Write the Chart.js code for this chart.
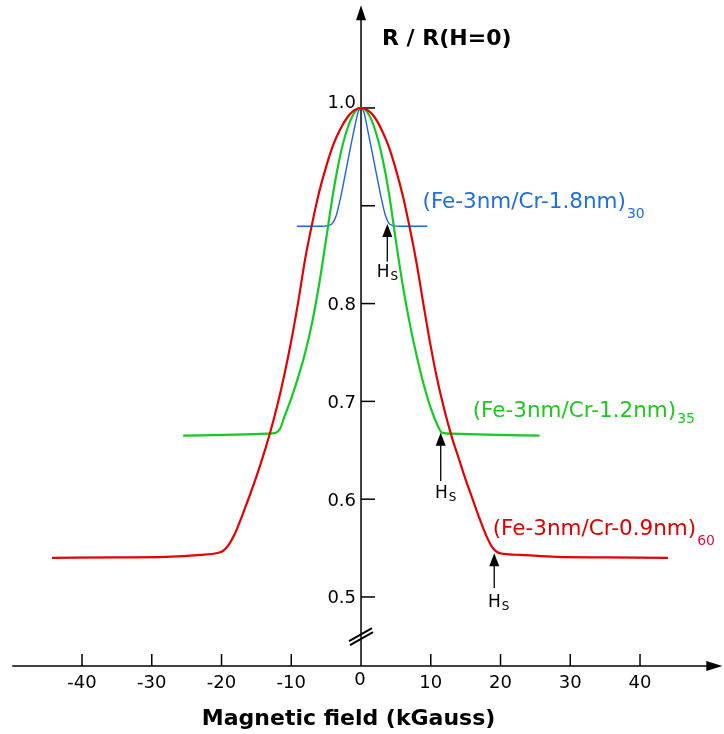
<!DOCTYPE html>
<html>
<head>
<meta charset="utf-8">
<script src="https://cdn.jsdelivr.net/npm/chart.js@4.4.0/dist/chart.umd.min.js"></script>
<style>
  html, body { margin: 0; padding: 0; background: #fff; }
  canvas { display: block; }
</style>
</head>
<body>
<canvas id="mrChart" width="724" height="734"></canvas>
<script>
// magnetic field (kGauss) and R / R(H=0) for each multilayer
const redField = [-44.3, -35, -28, -23, -20.6, -19.8, -19, -18, -17, -16, -15, -14, -13, -12, -11, -10, -9, -8, -7, -6, -5, -4, -3, -2, -1, 0,
                  1, 2, 3, 4, 5, 6, 7, 8, 9, 10, 11, 12, 13, 14, 15, 16, 17, 18, 18.8, 19.5, 20.5, 23, 28, 35, 44];
const redRatio = [0.540, 0.5405, 0.541, 0.543, 0.545, 0.547, 0.553, 0.566, 0.584, 0.603, 0.623, 0.645, 0.669, 0.696, 0.727, 0.762, 0.802, 0.846, 0.882, 0.914, 0.940, 0.962, 0.978, 0.990, 0.9975, 1.000,
                  0.9975, 0.990, 0.977, 0.960, 0.937, 0.910, 0.877, 0.840, 0.797, 0.756, 0.720, 0.690, 0.664, 0.642, 0.620, 0.600, 0.580, 0.562, 0.551, 0.546, 0.544, 0.543, 0.541, 0.5405, 0.540];

const greenField = [-25.5, -18, -13.5, -12.2, -11.6, -11, -10, -9, -8, -7, -6, -5, -4, -3, -2, -1, 0,
                    1, 2, 3, 4, 5, 6, 7, 8, 9, 10, 11, 11.6, 13, 18, 25.6];
const greenRatio = [0.665, 0.666, 0.667, 0.668, 0.672, 0.684, 0.703, 0.725, 0.750, 0.781, 0.820, 0.866, 0.913, 0.951, 0.978, 0.9946, 1.000,
                    0.9946, 0.978, 0.951, 0.913, 0.864, 0.818, 0.779, 0.746, 0.717, 0.693, 0.675, 0.668, 0.667, 0.666, 0.665];

const blueField = [-9.2, -6, -4.6, -4.1, -3.6, -3.0, -2.05, -1.1, -0.4, 0, 0.4, 1.05, 2.0, 2.96, 3.5, 4.0, 4.5, 6, 9.5];
const blueRatio = [0.879, 0.879, 0.880, 0.882, 0.889, 0.906, 0.940, 0.974, 0.996, 1.000, 0.996, 0.974, 0.940, 0.906, 0.890, 0.882, 0.880, 0.879, 0.879];

// saturation field H_S marked with arrows (blue, green, red)
const hsField = [3.77, 11.42, 19.1];
const hsRatio = [0.8814, 0.668, 0.5447];

const xTicks = [-40, -30, -20, -10, 0, 10, 20, 30, 40];
const yTicks = [1.0, 0.9, 0.8, 0.7, 0.6, 0.5];
const yTickLabels = ['1.0', '', '0.8', '0.7', '0.6', '0.5'];

const axisRatio = 0.4294;   // where the field axis crosses
const breakRatio = 0.459;   // axis break mark

function zip(xs, ys) { return xs.map((x, i) => ({ x: x, y: ys[i] })); }

const FONT = '"DejaVu Sans", Verdana, sans-serif';

function arrowHead(ctx, x, y, dir, len, half) {
  ctx.beginPath();
  if (dir === 'up') {
    ctx.moveTo(x, y); ctx.lineTo(x - half, y + len); ctx.lineTo(x + half, y + len);
  } else {
    ctx.moveTo(x, y); ctx.lineTo(x - len, y - half); ctx.lineTo(x - len, y + half);
  }
  ctx.closePath();
  ctx.fill();
}

function subText(ctx, main, sub, x, y, size, subSize, subDy, color, subColor) {
  ctx.fillStyle = color;
  ctx.font = size + 'px ' + FONT;
  ctx.textAlign = 'left';
  ctx.textBaseline = 'alphabetic';
  ctx.fillText(main, x, y);
  const w = ctx.measureText(main).width;
  ctx.fillStyle = subColor || color;
  ctx.font = subSize + 'px ' + FONT;
  ctx.fillText(sub, x + w + 1, y + subDy);
}

const axesPlugin = {
  id: 'axes',
  beforeDatasetsDraw(chart) {
    const ctx = chart.ctx, sx = chart.scales.x, sy = chart.scales.y;
    const x0 = sx.getPixelForValue(0);
    const yA = sy.getPixelForValue(axisRatio);
    ctx.save();
    ctx.strokeStyle = '#000';
    ctx.fillStyle = '#000';
    ctx.lineWidth = 1.5;

    // field axis with arrow
    const xL = sx.getPixelForValue(-50), xR = sx.getPixelForValue(51.8);
    ctx.beginPath(); ctx.moveTo(xL, yA); ctx.lineTo(xR - 10, yA); ctx.stroke();
    arrowHead(ctx, xR, yA, 'right', 16, 5);

    // ratio axis with arrow
    const yT = sy.getPixelForValue(1.105);
    ctx.beginPath(); ctx.moveTo(x0, yA); ctx.lineTo(x0, yT + 10); ctx.stroke();
    arrowHead(ctx, x0, yT, 'up', 15, 5);

    // x ticks + labels
    ctx.font = '18px ' + FONT;
    ctx.textAlign = 'center';
    ctx.textBaseline = 'alphabetic';
    xTicks.forEach(v => {
      const x = sx.getPixelForValue(v);
      if (v !== 0) {
        ctx.beginPath(); ctx.moveTo(x, yA); ctx.lineTo(x, yA - 12); ctx.stroke();
        ctx.fillText(String(v), x, yA + 22);
      } else {
        ctx.fillText(String(v), x - 1, yA + 19);
      }
    });

    // y ticks + labels
    ctx.textAlign = 'right';
    yTicks.forEach((v, i) => {
      const y = sy.getPixelForValue(v);
      ctx.beginPath(); ctx.moveTo(x0, y); ctx.lineTo(x0 + 14, y); ctx.stroke();
      if (yTickLabels[i]) {
        ctx.fillText(yTickLabels[i], x0 - 5, i === 0 ? y : y + 6.5);
      }
    });

    // axis break
    const yb = sy.getPixelForValue(breakRatio);
    ctx.lineWidth = 2;
    ctx.beginPath();
    ctx.moveTo(x0 - 12, yb + 4); ctx.lineTo(x0 + 11, yb - 9);
    ctx.moveTo(x0 - 11, yb + 8); ctx.lineTo(x0 + 12, yb - 5);
    ctx.stroke();

    // axis titles
    ctx.font = 'bold 22px ' + FONT;
    ctx.textAlign = 'center';
    ctx.fillText('Magnetic field (kGauss)', 348.6, 725);
    ctx.textAlign = 'left';
    ctx.fillText('R / R(H=0)', 382, 45);
    ctx.restore();
  },
  afterDatasetsDraw(chart) {
    const ctx = chart.ctx, sx = chart.scales.x, sy = chart.scales.y;
    ctx.save();

    // series labels
    subText(ctx, '(Fe-3nm/Cr-1.8nm)', '30', 422.5, 208.3, 21.5, 14, 10, '#1e6ee6');
    subText(ctx, '(Fe-3nm/Cr-1.2nm)', '35', 472.7, 416.7, 21.5, 14, 6, '#1fc81f');
    subText(ctx, '(Fe-3nm/Cr-0.9nm)', '60', 492.7, 535.3, 21.5, 14, 10, '#e00000', '#e0103c');

    // H_S arrows
    const lineLen = [37.7, 48.3, 34.7];
    const textDy = [52.7, 65.3, 53.4];
    const textDx = [-10.5, -5.8, -6.3];
    ctx.strokeStyle = '#111';
    ctx.lineWidth = 1.4;
    hsField.forEach((h, i) => {
      const x = sx.getPixelForValue(h), y = sy.getPixelForValue(hsRatio[i]);
      ctx.fillStyle = '#000';
      arrowHead(ctx, x, y, 'up', 13, 5);
      ctx.beginPath(); ctx.moveTo(x, y + 12); ctx.lineTo(x, y + lineLen[i]); ctx.stroke();
      subText(ctx, 'H', 'S', x + textDx[i], y + textDy[i], 17, 12, 3, '#000');
    });
    ctx.restore();
  }
};

function series(field, ratio, color, width) {
  return {
    data: zip(field, ratio),
    borderColor: color,
    borderWidth: width,
    pointRadius: 0,
    fill: false,
    cubicInterpolationMode: 'monotone'
  };
}

new Chart(document.getElementById('mrChart'), {
  type: 'line',
  data: {
    datasets: [
      series(redField, redRatio, '#e60000', 2.2),
      series(greenField, greenRatio, '#11cc22', 2.2),
      series(blueField, blueRatio, '#1a62f0', 1.4)
    ]
  },
  options: {
    responsive: false,
    animation: false,
    layout: { padding: 0 },
    plugins: { legend: { display: false }, tooltip: { enabled: false } },
    scales: {
      x: { type: 'linear', min: -51.76, max: 52.04, display: false },
      y: { type: 'linear', min: 0.3599, max: 1.1104, display: false }
    }
  },
  plugins: [axesPlugin]
});
</script>
</body>
</html>
